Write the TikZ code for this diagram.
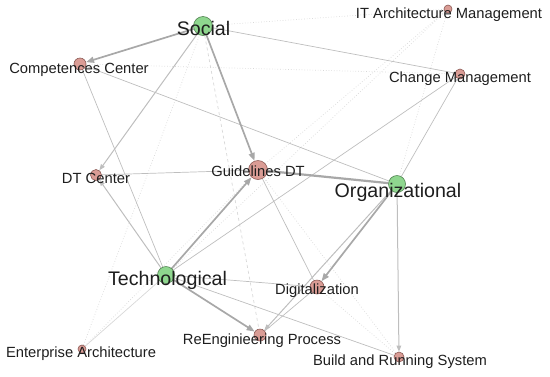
\documentclass[tikz,border=0pt]{standalone}
\usepackage{fontspec}
\setmainfont{Liberation Sans}
\usetikzlibrary{arrows.meta,backgrounds}
\definecolor{node-green}{HTML}{8ED68E}
\definecolor{rim-green}{HTML}{4F7F4F}
\definecolor{node-pink}{HTML}{DA9C95}
\definecolor{rim-pink}{HTML}{8C5A55}
\definecolor{edge-dark}{HTML}{A8A8A8}
\definecolor{edge-mid}{HTML}{BEBEBE}
\definecolor{edge-light}{HTML}{D8D8D8}
\definecolor{label-text}{HTML}{1E1E1E}
\begin{document}
\begin{tikzpicture}[x=1bp, y=-1bp,
    dimnode/.style={circle, draw=rim-pink, fill=node-pink, line width=0.6bp, inner sep=0pt},
    catnode/.style={circle, draw=rim-green, fill=node-green, line width=0.6bp, inner sep=0pt},
    smalllabel/.style={anchor=base, inner sep=0pt, text=label-text,
      font=\fontsize{14.8}{17}\selectfont},
    biglabel/.style={anchor=base, inner sep=0pt, text=label-text,
      font=\fontsize{19.7}{23}\selectfont},
    heavyedge/.style={draw=edge-dark, line width=1.7bp},
    midedge/.style={draw=edge-mid, line width=1bp},
    liteedge/.style={draw=edge-mid, line width=0.7bp},
    faintedge/.style={draw=edge-light, line width=0.7bp, dotted},
    bigtip/.style={-{Triangle[length=8bp,width=6bp]}},
    smalltip/.style={-{Triangle[length=6bp,width=4.5bp]}}]
      \useasboundingbox (0,0) rectangle (550,376);
      \node[catnode, minimum size=19bp] (Social) at (203,26) {};
      \node[catnode, minimum size=17bp] (Org) at (397,184) {};
      \node[catnode, minimum size=17bp] (Tech) at (166,275) {};
      \node[dimnode, minimum size=12bp] (CC) at (80,64) {};
      \node[dimnode, minimum size=8bp] (ITA) at (448,9) {};
      \node[dimnode, minimum size=10bp] (CM) at (460,74) {};
      \node[dimnode, minimum size=11bp] (DTC) at (96,175) {};
      \node[dimnode, minimum size=19bp] (Guide) at (258,170) {};
      \node[dimnode, minimum size=14bp] (Digit) at (317,287) {};
      \node[dimnode, minimum size=12bp] (ReEng) at (260,335) {};
      \node[dimnode, minimum size=10bp] (Build) at (399,357) {};
      \node[dimnode, minimum size=8bp] (EA) at (82,349) {};
      \begin{scope}[on background layer]
        \draw[faintedge] (Social) -- (ITA);
        \draw[faintedge] (ITA) -- (Guide);
        \draw[faintedge] (ITA) -- (Org);
        \draw[faintedge] (ITA) -- (Tech);
        \draw[faintedge] (EA) -- (Social);
        \draw[faintedge] (EA) -- (Guide);
        \draw[faintedge] (Guide) -- (Build);
        \draw[faintedge] (Digit) -- (Build);
        \draw[faintedge] (CC) -- (CM);
        \draw[liteedge, dashed, draw=edge-light] (Social) -- (ReEng);
        \draw[liteedge] (Social) -- (CM);
        \draw[liteedge] (CC) -- (Org);
        \draw[liteedge] (CC) -- (Tech);
        \draw[liteedge] (DTC) -- (Guide);
        \draw[liteedge] (Tech) -- (Digit);
        \draw[liteedge] (Tech) -- (Build);
        \draw[liteedge] (Tech) -- (CM);
        \draw[liteedge] (Org) -- (CM);
        \draw[liteedge] (Guide) -- (Digit);
        \draw[liteedge] (Digit) -- (ReEng);
        \draw[liteedge, draw=edge-light] (Tech) -- (EA);
        \draw[midedge, smalltip] (Tech) -- (DTC);
        \draw[midedge, smalltip] (Social) -- (DTC);
        \draw[midedge, smalltip] (Org) -- (Build);
        \draw[midedge, smalltip] (Org) -- (ReEng);
        \draw[heavyedge, bigtip] (Social) -- (Guide);
        \draw[heavyedge, bigtip] (Tech) -- (Guide);
        \draw[heavyedge, bigtip] (Tech) -- (ReEng);
        \draw[heavyedge, bigtip] (Social) -- (CC);
        \draw[heavyedge, bigtip] (Org) -- (Digit);
        \draw[heavyedge, line width=2.2bp] (Guide) -- (Org);
      \end{scope}
      \node[biglabel] (SocialTxt) at (203.5,35.5) {Social};
      \node[biglabel] (OrgTxt) at (398,197) {Organizational};
      \node[biglabel] (TechTxt) at (167.5,285) {Technological};
      \node[smalllabel] (CCTxt) at (79,73) {Competences Center};
      \node[smalllabel] (ITATxt) at (449,18) {IT Architecture Management};
      \node[smalllabel] (CMTxt) at (460,82) {Change Management};
      \node[smalllabel] (DTCTxt) at (96,183) {DT Center};
      \node[smalllabel] (GuideTxt) at (258,176) {Guidelines DT};
      \node[smalllabel] (DigitTxt) at (317,294) {Digitalization};
      \node[smalllabel] (ReEngTxt) at (262,344) {ReEnginieering Process};
      \node[smalllabel] (BuildTxt) at (400,365) {Build and Running System};
      \node[smalllabel] (EATxt) at (81,357) {Enterprise Architecture};
    \end{tikzpicture}
\end{document}
